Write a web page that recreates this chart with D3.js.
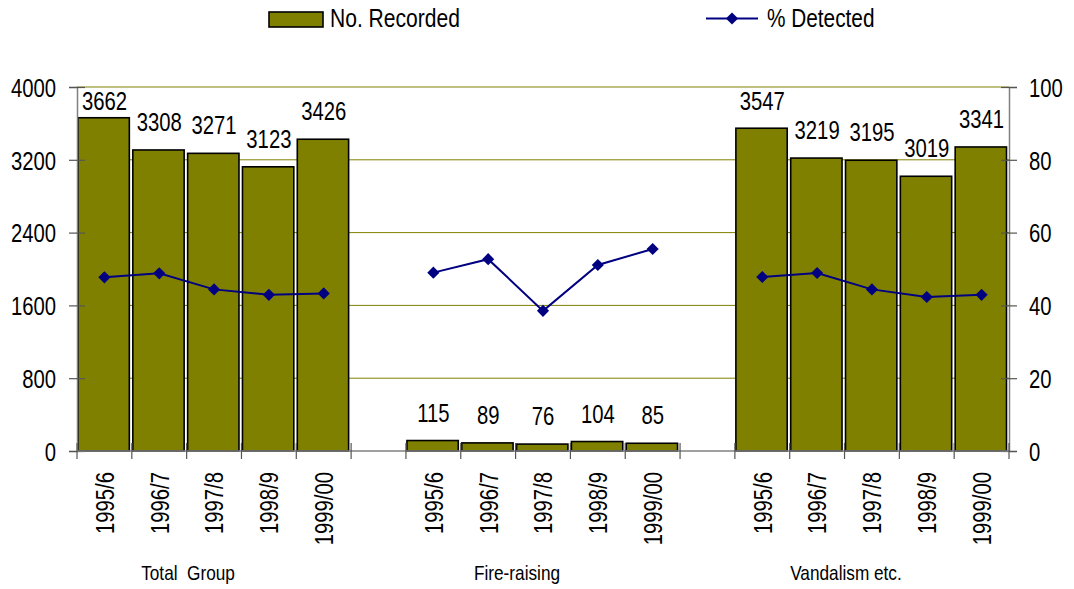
<!DOCTYPE html>
<html>
<head>
<meta charset="utf-8">
<script src="https://cdn.jsdelivr.net/npm/d3@7"></script>
<style>
  html, body { margin: 0; padding: 0; background: #fff; }
  svg { display: block; }
  text { font-family: "Liberation Sans Narrow", "Arial Narrow", "Liberation Sans", Arial, sans-serif; fill: #000; }
</style>
</head>
<body>
<svg id="chart" width="1074" height="589"></svg>
<script>
// Offence groups and financial years
const groups = ["Total  Group", "Fire-raising", "Vandalism etc."];
const years = ["1995/6", "1996/7", "1997/8", "1998/9", "1999/00"];

// Number of crimes recorded, per group
const recordedTotal = [3662, 3308, 3271, 3123, 3426];
const recordedFire = [115, 89, 76, 104, 85];
const recordedVandalism = [3547, 3219, 3195, 3019, 3341];

// Percentage detected, per group
const detectedTotal = [47.7, 48.8, 44.4, 42.9, 43.3];
const detectedFire = [49.0, 52.7, 38.5, 51.1, 55.5];
const detectedVandalism = [47.8, 48.9, 44.4, 42.3, 42.9];

// Axis ticks
const leftTicks = [0, 800, 1600, 2400, 3200, 4000];
const rightTicks = [0, 20, 40, 60, 80, 100];

const seriesNames = ["No. Recorded", "% Detected"];

const recorded = [recordedTotal, recordedFire, recordedVandalism];
const detected = [detectedTotal, detectedFire, detectedVandalism];

const OLIVE = "#808000";
const NAVY = "#000080";
const AXIS = "#808080";
const NARROW = 0.78;   // horizontal squeeze for a condensed face

const svg = d3.select("#chart");

const plot = { left: 77, right: 1009, top: 87, bottom: 451 };

// Place a text node at (x, y), optionally rotated, squeezed along its run
function place(sel, x, y, rot, squeeze) {
  sel.attr("x", 0).attr("y", 0)
    .attr("transform", (d, i) => {
      const px = typeof x === "function" ? x(d, i) : x;
      const py = typeof y === "function" ? y(d, i) : y;
      return `translate(${px},${py})` + (rot ? ` rotate(${rot})` : "") + ` scale(${squeeze || NARROW},1)`;
    });
  return sel;
}

// One band per year in each group, with an empty band between groups
const slots = [];
groups.forEach((g, gi) => {
  years.forEach(y => slots.push(g + "|" + y));
  if (gi < groups.length - 1) slots.push("spacer" + gi);
});

const x = d3.scaleBand().domain(slots).range([plot.left, plot.right]).padding(0);
const yLeft = d3.scaleLinear().domain([0, 4000]).range([plot.bottom, plot.top]);
const yRight = d3.scaleLinear().domain([0, 100]).range([plot.bottom, plot.top]);
const cx = d => x(d.key) + x.bandwidth() / 2;

const rows = [];
groups.forEach((g, gi) => {
  years.forEach((yr, i) => {
    rows.push({ group: g, gi, year: yr, key: g + "|" + yr, n: recorded[gi][i], pct: detected[gi][i] });
  });
});

// Gridlines
svg.append("g")
  .selectAll("line")
  .data(leftTicks.filter(t => t > 0))
  .join("line")
  .attr("x1", plot.left).attr("x2", plot.right)
  .attr("y1", d => yLeft(d)).attr("y2", d => yLeft(d))
  .attr("stroke", OLIVE).attr("stroke-width", 1);

// Bars
const barGap = 3.5;
svg.append("g")
  .selectAll("rect")
  .data(rows)
  .join("rect")
  .attr("x", d => x(d.key) + 1)
  .attr("width", x.bandwidth() - barGap)
  .attr("y", d => yLeft(d.n))
  .attr("height", d => yLeft(0) - yLeft(d.n))
  .attr("fill", OLIVE)
  .attr("stroke", "#000")
  .attr("stroke-width", 1.6);

// Bar value labels
svg.append("g")
  .selectAll("text")
  .data(rows)
  .join("text")
  .attr("text-anchor", "middle")
  .attr("font-size", 26)
  .text(d => d3.format("d")(d.n))
  .call(place, cx, d => Math.max(yLeft(d.n) - 19, plot.top + 23));

// Axes
const leftAxis = d3.axisLeft(yLeft).tickValues(leftTicks).tickSize(8).tickFormat(d3.format("d"));
const gL = svg.append("g").attr("transform", `translate(${plot.left},0)`).call(leftAxis);
const rightAxis = d3.axisRight(yRight).tickValues(rightTicks).tickSize(8).tickFormat(d3.format("d"));
const gR = svg.append("g").attr("transform", `translate(${plot.right},0)`).call(rightAxis);

[gL, gR].forEach(g => {
  g.select(".domain").attr("stroke", AXIS).attr("stroke-width", 1.5);
  g.selectAll(".tick line").attr("stroke", "#555").attr("stroke-width", 1.2);
  g.selectAll(".tick text").attr("font-size", 26).attr("font-family", null).attr("fill", "#000");
});
// Cross ticks extend to both sides of the axis
gL.selectAll(".tick line").attr("x1", 8).attr("x2", -8);
gR.selectAll(".tick line").attr("x1", -8).attr("x2", 8);
gL.selectAll(".tick text").attr("dy", "0.36em").call(place, -21, 0);
gR.selectAll(".tick text").attr("dy", "0.36em").call(place, 20, 0);

// Category axis along the base
svg.append("line")
  .attr("x1", plot.left).attr("x2", plot.right)
  .attr("y1", plot.bottom).attr("y2", plot.bottom)
  .attr("stroke", AXIS).attr("stroke-width", 1.5);

const boundaries = slots.map(s => x(s)).concat([plot.right]);
svg.append("g")
  .selectAll("line")
  .data(boundaries)
  .join("line")
  .attr("x1", d => d).attr("x2", d => d)
  .attr("y1", plot.bottom - 8).attr("y2", plot.bottom + 8)
  .attr("stroke", "#555").attr("stroke-width", 1.2);

// Year labels, rotated
svg.append("g")
  .selectAll("text")
  .data(rows)
  .join("text")
  .attr("text-anchor", "end")
  .attr("dy", "0.36em")
  .attr("font-size", 26)
  .text(d => d.year)
  .call(place, cx, plot.bottom + 21, -90);

// Group labels
svg.append("g")
  .selectAll("text")
  .data(groups)
  .join("text")
  .attr("text-anchor", "middle")
  .attr("font-size", 21)
  .style("white-space", "pre")
  .text(g => g)
  .call(place, g => {
    const first = x(g + "|" + years[0]);
    const last = x(g + "|" + years[years.length - 1]) + x.bandwidth();
    return (first + last) / 2 - 26;
  }, 580, 0, 0.82);

// % Detected line, one segment per group
const line = d3.line()
  .x(cx)
  .y(d => yRight(d.pct));

groups.forEach(g => {
  const pts = rows.filter(r => r.group === g);
  svg.append("path")
    .datum(pts)
    .attr("d", line)
    .attr("fill", "none")
    .attr("stroke", NAVY)
    .attr("stroke-width", 2);
});

const diamond = d3.symbol().type(d3.symbolSquare).size(74);
svg.append("g")
  .selectAll("path")
  .data(rows)
  .join("path")
  .attr("transform", d => `translate(${cx(d)},${yRight(d.pct)}) rotate(45)`)
  .attr("d", diamond)
  .attr("fill", NAVY);

// Legend
const legend = svg.append("g");
legend.append("rect")
  .attr("x", 269).attr("y", 12).attr("width", 54).attr("height", 15)
  .attr("fill", OLIVE).attr("stroke", "#000").attr("stroke-width", 1.6);
legend.append("text")
  .attr("font-size", 26)
  .text(seriesNames[0])
  .call(place, 330, 27, 0, 0.81);
legend.append("line")
  .attr("x1", 706).attr("x2", 758).attr("y1", 18.5).attr("y2", 18.5)
  .attr("stroke", NAVY).attr("stroke-width", 2);
legend.append("path")
  .attr("transform", "translate(732,18.5) rotate(45)")
  .attr("d", diamond)
  .attr("fill", NAVY);
legend.append("text")
  .attr("font-size", 26)
  .text(seriesNames[1])
  .call(place, 767, 27, 0, 0.8);
</script>
</body>
</html>
